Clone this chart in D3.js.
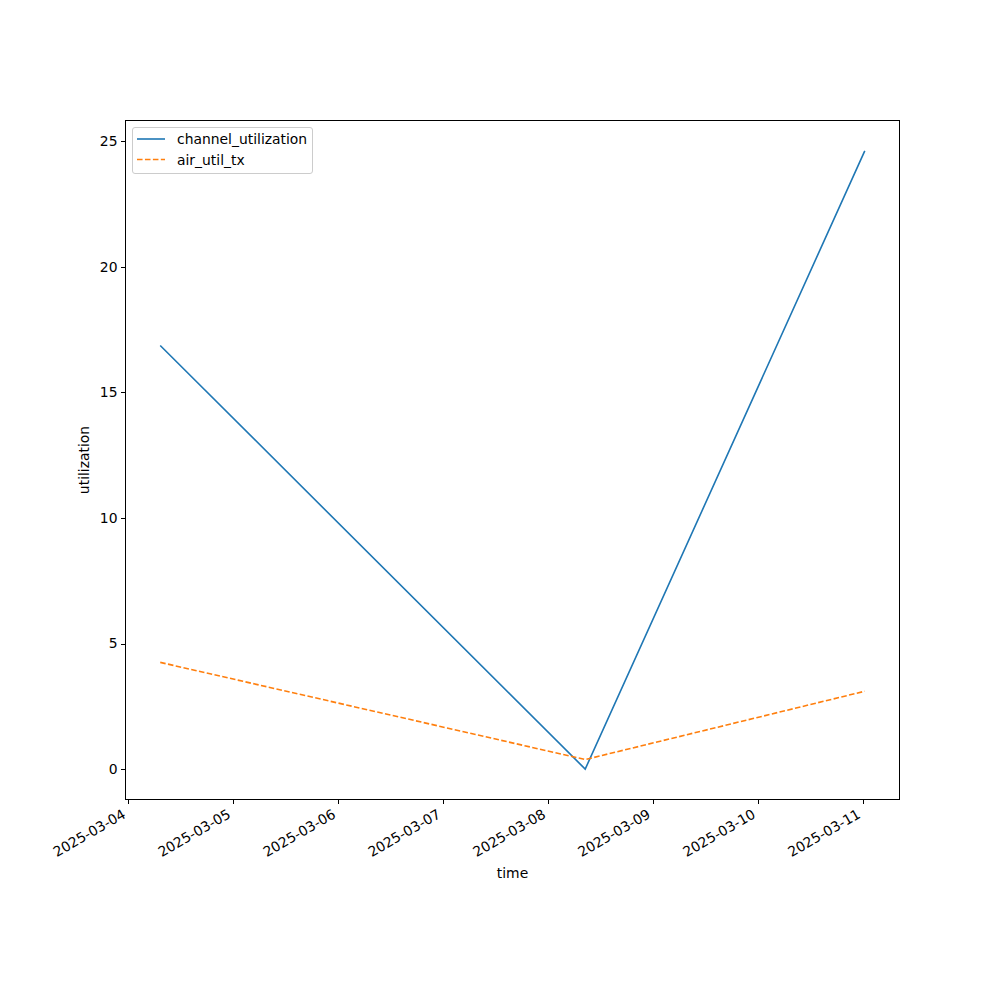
<!DOCTYPE html>
<html><head><meta charset="utf-8">
<script src="https://cdn.jsdelivr.net/npm/d3@7"></script>
<style>body{margin:0;background:#fff}svg{display:block}text{font-family:"DejaVu Sans",sans-serif;fill:#000}</style>
</head><body><svg id="c" width="1000" height="1000"></svg>
<script>
const times = ["2025-03-04T07:20:00", "2025-03-08T08:30:00", "2025-03-11T00:25:00"];
const channelUtilization = [16.87, 0.0, 24.62];
const airUtilTx = [4.25, 0.38, 3.1];
const seriesNames = ["channel_utilization", "air_util_tx"];
const yTicks = [0, 5, 10, 15, 20, 25];
const xTickLabels = ["2025-03-04","2025-03-05","2025-03-06","2025-03-07","2025-03-08","2025-03-09","2025-03-10","2025-03-11"];

const parse = d3.timeParse("%Y-%m-%dT%H:%M:%S");
const dates = times.map(parse);
const dParse = d3.timeParse("%Y-%m-%d");
const xTicks = xTickLabels.map(dParse);

const L = 125, R = 900, T = 120, B = 800;
const svg = d3.select("#c");

const xe = d3.extent(dates, d => +d), xs = xe[1]-xe[0];
const x = d3.scaleTime().domain([new Date(xe[0]-0.05*xs), new Date(xe[1]+0.05*xs)]).range([L, R]);
const allY = channelUtilization.concat(airUtilTx);
const ye = d3.extent(allY), ys = ye[1]-ye[0];
const y = d3.scaleLinear().domain([ye[0]-0.05*ys, ye[1]+0.05*ys]).range([B, T]);

const fs = "13.9px";
// x axis
const xa = svg.append("g").attr("transform", `translate(0,${B})`)
  .call(d3.axisBottom(x).tickValues(xTicks).tickSize(4).tickPadding(3.5).tickFormat(d3.timeFormat("%Y-%m-%d")));
xa.select(".domain").remove();
xa.selectAll("line").attr("stroke","#000").attr("stroke-width",1).attr("shape-rendering","crispEdges");
xa.selectAll("text").attr("font-size", fs).attr("font-family","DejaVu Sans")
  .attr("text-anchor","end").attr("dy", null).attr("y", null)
  .attr("transform","translate(-2,17) rotate(-30)");

// y axis
const ya = svg.append("g").attr("transform", `translate(${L},0)`)
  .call(d3.axisLeft(y).tickValues(yTicks).tickSize(4).tickPadding(3.5).tickFormat(d3.format("d")));
ya.select(".domain").remove();
ya.selectAll("line").attr("stroke","#000").attr("stroke-width",1).attr("shape-rendering","crispEdges");
ya.selectAll("text").attr("font-size", fs).attr("font-family","DejaVu Sans");

// lines
const colors = ["#1f77b4", "#ff7f0e"];
const dashes = [null, "5.55,2.4"];
[channelUtilization, airUtilTx].forEach((vals, i) => {
  const line = d3.line().x((d,j)=>x(dates[j])).y(d=>y(d));
  svg.append("path").datum(vals).attr("d", line).attr("fill","none")
    .attr("stroke", colors[i]).attr("stroke-width",1.6).attr("stroke-dasharray", dashes[i]);
});

// frame
svg.append("rect").attr("x",L+0.5).attr("y",T+0.5).attr("width",R-L-1).attr("height",B-T-1)
  .attr("fill","none").attr("stroke","#000").attr("stroke-width",1).attr("shape-rendering","crispEdges");

// labels
svg.append("text").attr("x",(L+R)/2).attr("y",878).attr("text-anchor","middle").attr("font-size",fs).text("time");
svg.append("text").attr("transform",`translate(89,${(T+B)/2}) rotate(-90)`).attr("text-anchor","middle").attr("font-size",fs).text("utilization");

// legend
const lg = svg.append("g");
lg.append("rect").attr("x",132.5).attr("y",127.5).attr("width",180).attr("height",46).attr("rx",2.5)
  .attr("fill","#fff").attr("fill-opacity",0.8).attr("stroke","#ccc").attr("stroke-width",1);
seriesNames.forEach((n,i)=>{
  const yy = 139 + i*20.5;
  lg.append("line").attr("x1",137).attr("x2",165).attr("y1",yy).attr("y2",yy)
    .attr("stroke",colors[i]).attr("stroke-width",1.6).attr("stroke-dasharray",dashes[i]);
  lg.append("text").attr("x",177).attr("y",yy+5).attr("font-size",fs).text(n);
});
</script></body></html>
